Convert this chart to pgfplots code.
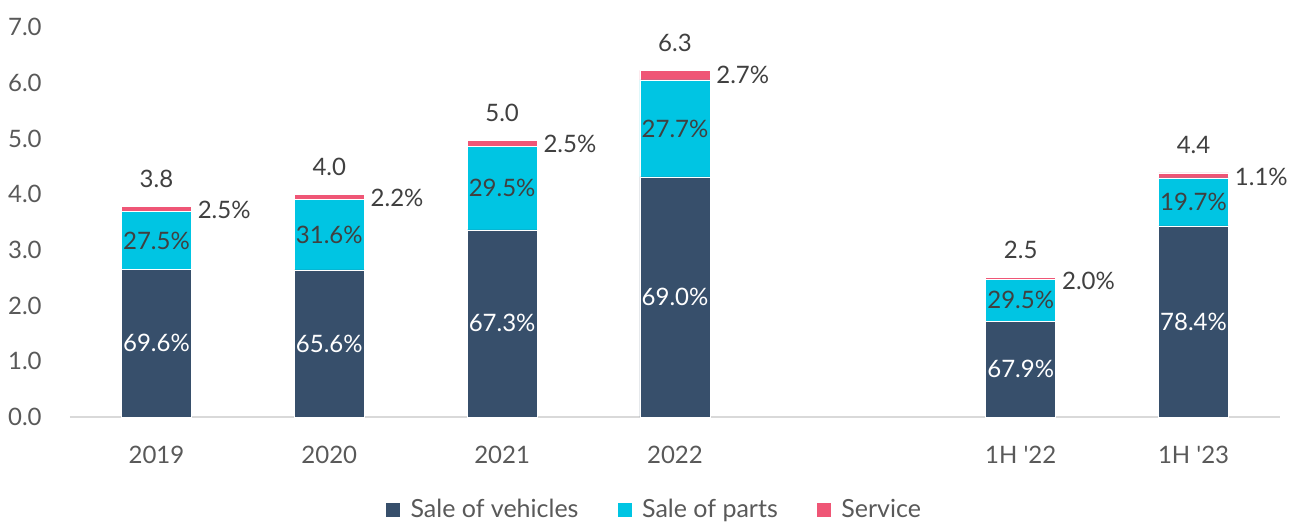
\documentclass[border=0pt]{standalone}
\usepackage{fontspec}
\setmainfont{Lato}
\usepackage{pgfplots}
\pgfplotsset{compat=1.18}
\definecolor{veh}{HTML}{374F6B}
\definecolor{parts}{HTML}{00C5E3}
\definecolor{serv}{HTML}{EF5676}
\definecolor{txt}{HTML}{595959}
\definecolor{lab}{HTML}{404040}
\pgfplotstableread{
x v p s
0 2.645 1.045 0.095
1 2.64 1.27 0.09
2 3.36 1.49 0.12
3 4.31 1.74 0.17
5 1.72 0.75 0.04
6 3.43 0.86 0.09
}\datatable
\begin{document}
\fontsize{12}{14}\selectfont
\begin{tikzpicture}
\begin{axis}[
  scale only axis, width=605pt, height=195pt,
  xmin=-0.5, xmax=6.5, ymin=0, ymax=7,
  ybar stacked, bar width=35pt,
  axis x line*=bottom, axis y line*=left,
  x axis line style={draw=black!15, line width=1pt, -},
  y axis line style={draw=none},
  xtick={0,1,2,3,5,6},
  xticklabels={2019,2020,2021,2022,1H \textquotesingle22,1H \textquotesingle23},
  ytick={0,1,...,7},
  major tick length=0pt,
  /pgf/number format/assume math mode=true,
  /pgf/number format/.cd, fixed, fixed zerofill, precision=1, /pgfplots/.cd,
  tick label style={text=txt, font=\fontsize{12}{14}\selectfont},
  xticklabel style={anchor=base, yshift=-23pt},
  yticklabel style={anchor=east, xshift=-10pt},
  clip=false,
  legend style={at={(0.5,0)}, anchor=center, xshift=-10pt, yshift=-46.5pt, draw=none, fill=none,
    font=\fontsize{12.5}{14}\selectfont, text=txt,
    /tikz/every even column/.append style={column sep=17pt},
    /tikz/every odd column/.append style={column sep=3pt}},
  legend columns=3,
  legend image code/.code={\fill[#1] (0pt,-3.75pt) rectangle (7.5pt,3.75pt);},
]
\addplot[fill=veh, draw=white, line width=0.3pt] table[x=x,y=v]{\datatable};
\addplot[fill=parts, draw=white, line width=0.3pt] table[x=x,y=p]{\datatable};
\addplot[fill=serv, draw=white, line width=0.3pt] table[x=x,y=s]{\datatable};
\legend{Sale of vehicles, Sale of parts, Service}
\coordinate (O) at (rel axis cs:0,0);
\def\segc#1#2#3#4#5{%
  \coordinate (v#1) at (axis cs:#2,#3/2);
  \coordinate (p#1) at (axis cs:#2,#3+#4/2);
  \coordinate (t#1) at (axis cs:#2,#3+#4+#5);
}
\segc{a}{0}{2.645}{1.045}{0.095}
\segc{b}{1}{2.64}{1.27}{0.09}
\segc{c}{2}{3.36}{1.49}{0.12}
\segc{d}{3}{4.31}{1.74}{0.17}
\segc{e}{5}{1.72}{0.75}{0.04}
\segc{f}{6}{3.43}{0.86}{0.09}
\end{axis}
\def\seg#1#2#3#4#5{%
  \node[text=white, inner sep=0] at (v#1) {#2};
  \node[text=lab, inner sep=0] at (p#1) {#3};
  \node[text=lab, inner sep=0, anchor=base, yshift=9.5pt] at (t#1) {#5};
  \node[text=lab, inner sep=0, anchor=west, xshift=20.5pt, yshift=-2pt] at (t#1) {#4};
}
\seg{a}{69.6\%}{27.5\%}{2.5\%}{3.8}
\seg{b}{65.6\%}{31.6\%}{2.2\%}{4.0}
\seg{c}{67.3\%}{29.5\%}{2.5\%}{5.0}
\seg{d}{69.0\%}{27.7\%}{2.7\%}{6.3}
\seg{e}{67.9\%}{29.5\%}{2.0\%}{2.5}
\seg{f}{78.4\%}{19.7\%}{1.1\%}{4.4}
\pgfresetboundingbox
\path (O) ++(-35pt,-55pt) rectangle ++(645.5pt,263.5pt);
\end{tikzpicture}
\end{document}
